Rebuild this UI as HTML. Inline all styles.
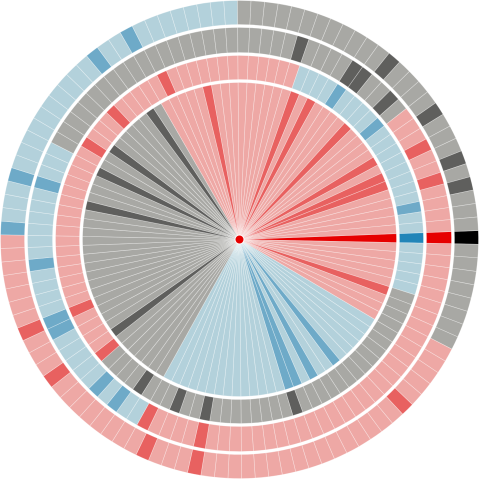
<!DOCTYPE html>
<html><head><meta charset="utf-8">
<style>html,body{margin:0;padding:0;background:#fff;width:479px;height:479px;overflow:hidden}</style>
</head><body>
<svg id="chart" width="479" height="479" viewBox="0 0 479 479" xmlns="http://www.w3.org/2000/svg"></svg>
<script>
const segmentCount = 110;
const layerNames = ['inner-pie','ring-1','ring-2','ring-3'];
const pieRuns = [[-121,30,'pink'],[30,118,'blue'],[118,239,'gray']];
const ring1Runs = [[138,291,'pink'],[-69,19,'blue'],[19,138,'gray']];
const ring2Runs = [[207,323,'gray'],[-37,119,'pink'],[119,207,'blue']];
const ring3Runs = [[-90,27,'gray'],[27,182,'pink'],[182,270,'blue']];
const pieDark = [-124,-144,-155,-168,143,-102,-69.5,-63,-47,-30,-23.5,-20,19,52,61,69,72];
const ring1Dark = [157,142,-148,-135,-115,-57,-39,-10.5,123,110,100.5,72];
const ring2Dark = [-73,-57,-51,-44,-27,-17.6,117,100,172,155,158,133,126.6,-163.6];
const ring3Dark = [-50,-34,-21,-14.4,-118,-128,-164,-177,156,143,116,100,47];
const pieBright = [0], ring1Bright = [0], ring2Bright = [0], ring3Bright = [0];

const layerRuns = [pieRuns, ring1Runs, ring2Runs, ring3Runs];
const layerDark = [pieDark, ring1Dark, ring2Dark, ring3Dark];
const layerBright = [pieBright, ring1Bright, ring2Bright, ring3Bright];
const radii = [[0,157],[160,184],[187,212],[215,239]];
const base = {pink:'#eea8a5', blue:'#b3d1db', gray:'#a8a8a4'};
const dark = {pink:'#e86160', blue:'#6eaac8', gray:'#5f5f5d'};
const bright = {pink:'#e60000', blue:'#2185b8', gray:'#000000'};
const cx = 239.5, cy = 239.5, w = 360/segmentCount;
const svg = document.getElementById('chart');
const NS = 'http://www.w3.org/2000/svg';
function norm(a){return ((a%360)+360)%360;}
function segIndex(a){return Math.round(norm(a)/w)%segmentCount;}
function inRun(a, r){const s=norm(r[0]); let e=norm(r[1]); let len=norm(e-s); return norm(a-s) < len;}
function pt(r,a){const t=a*Math.PI/180; return [cx+r*Math.cos(t), cy+r*Math.sin(t)];}
function sector(r0,r1,a0,a1){
  const p1=pt(r1,a0), p2=pt(r1,a1);
  if(r0<=0) return `M${cx},${cy}L${p1[0]},${p1[1]}A${r1},${r1} 0 0 1 ${p2[0]},${p2[1]}Z`;
  const p3=pt(r0,a1), p4=pt(r0,a0);
  return `M${p1[0]},${p1[1]}A${r1},${r1} 0 0 1 ${p2[0]},${p2[1]}L${p3[0]},${p3[1]}A${r0},${r0} 0 0 0 ${p4[0]},${p4[1]}Z`;
}
layerRuns.forEach((runs, L) => {
  const g = document.createElementNS(NS,'g');
  
  
  svg.appendChild(g);
  const darkSet = new Set(layerDark[L].map(segIndex));
  const brightSet = new Set(layerBright[L].map(segIndex));
  for(let k=0;k<segmentCount;k++){
    const c = k*w;
    let cat = 'gray';
    for(const r of runs){ if(inRun(c, r)){cat=r[2];break;} }
    let fill = base[cat];
    if(brightSet.has(k)) fill = bright[cat];
    else if(darkSet.has(k)) fill = dark[cat];
    const p = document.createElementNS(NS,'path');
    p.setAttribute('d', sector(radii[L][0], radii[L][1], c-w/2-0.5, c+w/2-0.5));
    p.setAttribute('fill', fill);
    p.setAttribute('stroke', 'rgba(255,255,255,0.45)');
    p.setAttribute('stroke-width', '0.6');
    
    
    g.appendChild(p);
  }
});
const dot = document.createElementNS(NS,'circle');
dot.setAttribute('cx', cx); dot.setAttribute('cy', cy); dot.setAttribute('r', 4.5);
dot.setAttribute('fill', '#e60000'); dot.setAttribute('stroke', '#fff'); dot.setAttribute('stroke-width', '1');


svg.appendChild(dot);
</script>
</body></html>
